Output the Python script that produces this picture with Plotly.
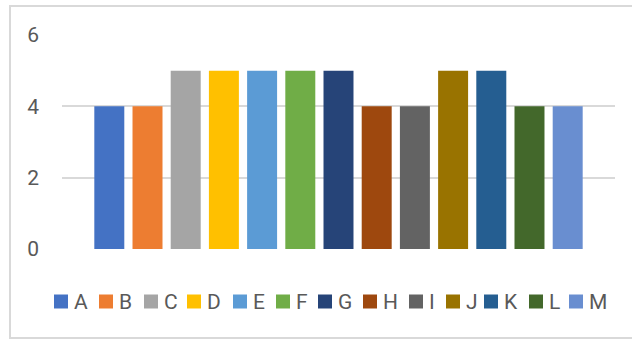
import plotly.graph_objects as go

# Series names, values and Office-style colours
names = ["A", "B", "C", "D", "E", "F", "G", "H", "I", "J", "K", "L", "M"]
values = [4, 4, 5, 5, 5, 5, 5, 4, 4, 5, 5, 4, 4]
colors = ["#4472C4", "#ED7D31", "#A5A5A5", "#FFC000", "#5B9BD5", "#70AD47",
          "#264478", "#9E480E", "#636363", "#997300", "#255E91", "#43682B",
          "#698ED0"]
y_ticks = [0, 2, 4, 6]

# Key layout below the plot (left edge of each swatch, in pixels)
key_x = [54, 99, 144, 187, 233, 276, 318, 363, 409, 446, 484, 529, 569]
key_y = 301.5
key_size = 14

W, H = 632, 339
L, R, T, B = 62, 17, 35, 90
pw, ph = W - L - R, H - T - B


def px_x(x):
    return (x - L) / pw


def px_y(y):
    return (H - B - y) / ph


font = "Liberation Sans Narrow, Roboto, Arial, sans-serif"

fig = go.Figure()
for n, v, c in zip(names, values, colors):
    fig.add_trace(go.Bar(x=[""], y=[v], name=n, showlegend=False,
                         marker=dict(color=c, line=dict(width=0))))

shapes = [dict(type="rect", xref="paper", yref="paper",
               x0=px_x(10), x1=px_x(645), y0=px_y(338), y1=px_y(6),
               line=dict(color="#D9D9D9", width=2), layer="below")]
annotations = []
for n, c, kx in zip(names, colors, key_x):
    shapes.append(dict(type="rect", xref="paper", yref="paper",
                       x0=px_x(kx), x1=px_x(kx + key_size),
                       y0=px_y(key_y + key_size / 2), y1=px_y(key_y - key_size / 2),
                       fillcolor=c, line=dict(width=0)))
    annotations.append(dict(text=n, xref="paper", yref="paper",
                            x=px_x(kx + key_size + 5), y=px_y(key_y),
                            xanchor="left", yanchor="middle", showarrow=False,
                            borderpad=0,
                            font=dict(family=font, size=21, color="#595959")))

fig.update_layout(
    width=W, height=H,
    margin=dict(l=L, r=R, t=T, b=B, autoexpand=False),
    paper_bgcolor="white", plot_bgcolor="white",
    barmode="group", bargap=0.102, bargroupgap=0.215,
    showlegend=False,
    xaxis=dict(showticklabels=False, showgrid=False, zeroline=False, showline=False),
    yaxis=dict(range=[0, 6], tickvals=y_ticks, showgrid=True, gridcolor="#D9D9D9",
               gridwidth=1.5, zeroline=False, showline=False,
               tickfont=dict(family=font, size=21, color="#595959"),
               ticklabelstandoff=22),
    shapes=shapes,
    annotations=annotations,
)

fig.write_html("out.html")
